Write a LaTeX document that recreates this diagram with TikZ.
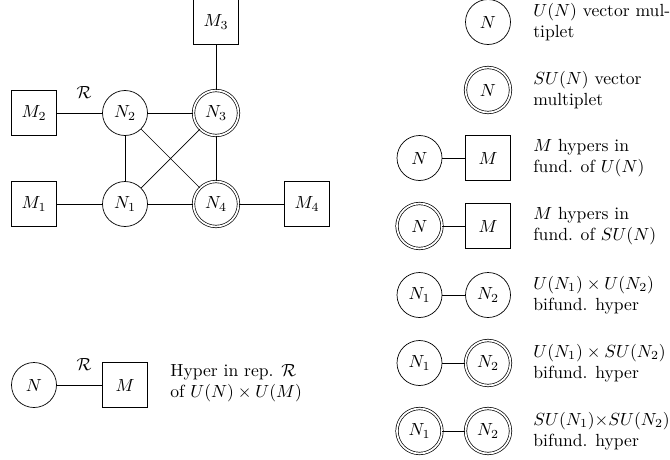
\documentclass[tikz,border=0pt]{standalone}
\usepackage{amsmath}
\usepackage{amssymb}
\usetikzlibrary{positioning, calc}

\begin{document}
\begin{tikzpicture}[
	u/.style={circle, draw, minimum size=0.9cm, inner sep=0pt},
	su/.style={u, double, double distance=1pt},
	fl/.style={rectangle, draw, minimum size=0.9cm, inner sep=0pt},
	desc/.style={anchor=west, align=left, inner sep=0pt},
	rep/.style={above=5pt, pos=0.6},
	node distance=1.82cm, on grid
]
	\def\lx{9.76}
	\def\kx{8.39}
	\def\tx{10.66}
	\useasboundingbox (0, 0) rectangle (13.4, -9.18);
	
	% quiver
	\node[u] (N1) at (2.5, -4.08) {$N_1$};
	\node[u, above=of N1] (N2) {$N_2$};
	\node[su, right=of N2] (N3) {$N_3$};
	\node[su, right=of N1] (N4) {$N_4$};
	\node[fl, left=of N1] (M1) {$M_1$};
	\node[fl, left=of N2] (M2) {$M_2$};
	\node[fl, above=of N3] (M3) {$M_3$};
	\node[fl, right=of N4] (M4) {$M_4$};
	
	\draw (M2) -- node[rep] {$\mathcal{R}$} (N2);
	\draw (M1) -- (N1);
	\draw (N1) -- (N2) (N2) -- (N3) (N3) -- (N4) (N4) -- (N1);
	\draw (N1) -- (N3) (N2) -- (N4);
	\draw (N3) -- (M3) (N4) -- (M4);
	
	% bifundamental in rep R
	\node[u] (N) at (0.68, -7.7) {$N$};
	\node[fl, right=of N] (M) {$M$};
	\draw (N) -- node[rep] {$\mathcal{R}$} (M);
	\node[desc] (TR) at (3.4, -7.66) {Hyper in rep. $\mathcal{R}$\\of $U(N)\times U(M)$};
	
	% legend
	\node[u] (L1) at (\lx, -0.44) {$N$};
	\node[desc] (T1) at (\tx, -0.44) {$U(N)$ vector mul-\\tiplet};
	
	\node[su] (L2) at (\lx, -1.80) {$N$};
	\node[desc] (T2) at (\tx, -1.80) {$SU(N)$ vector\\multiplet};
	
	\node[u] (L3a) at (\kx, -3.16) {$N$};
	\node[fl] (L3b) at (\lx, -3.16) {$M$};
	\draw (L3a) -- (L3b);
	\node[desc] (T3) at (\tx, -3.16) {$M$ hypers in\\fund. of $U(N)$};
	
	\node[su] (L4a) at (\kx, -4.52) {$N$};
	\node[fl] (L4b) at (\lx, -4.52) {$M$};
	\draw (L4a) -- (L4b);
	\node[desc] (T4) at (\tx, -4.52) {$M$ hypers in\\fund. of $SU(N)$};
	
	\node[u] (L5a) at (\kx, -5.90) {$N_1$};
	\node[u] (L5b) at (\lx, -5.90) {$N_2$};
	\draw (L5a) -- (L5b);
	\node[desc] (T5) at (\tx, -5.90) {$U(N_1)\times U(N_2)$\\bifund. hyper};
	
	\node[u] (L6a) at (\kx, -7.26) {$N_1$};
	\node[su] (L6b) at (\lx, -7.26) {$N_2$};
	\draw (L6a) -- (L6b);
	\node[desc] (T6) at (\tx, -7.26) {$U(N_1)\times SU(N_2)$\\bifund. hyper};
	
	\node[su] (L7a) at (\kx, -8.62) {$N_1$};
	\node[su] (L7b) at (\lx, -8.62) {$N_2$};
	\draw (L7a) -- (L7b);
	\node[desc] (T7) at (\tx, -8.62) {$SU(N_1){\times}SU(N_2)$\\bifund. hyper};
\end{tikzpicture}
\end{document}
